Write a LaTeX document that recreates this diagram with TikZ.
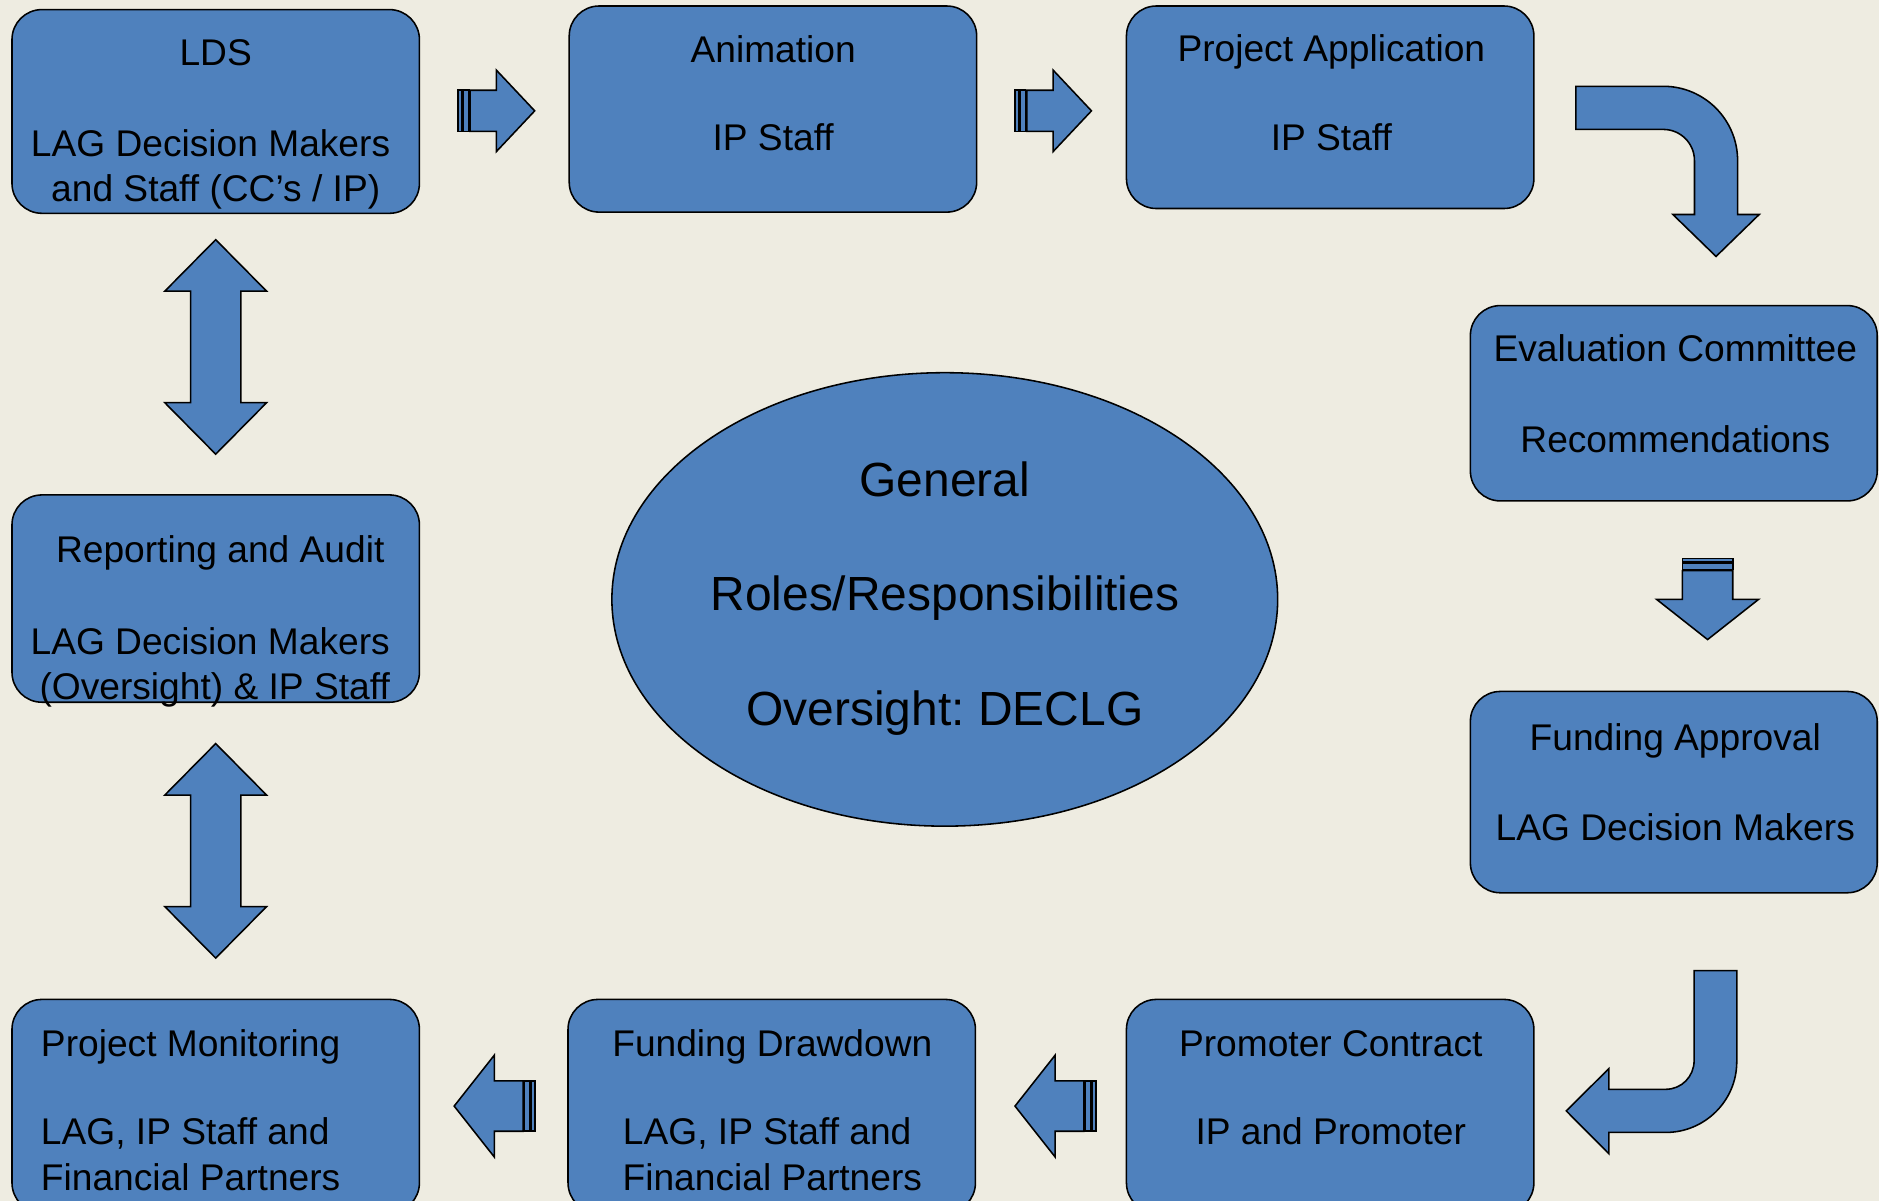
\documentclass[tikz,border=0pt]{standalone}
\usepackage{fontspec}
\setmainfont{Liberation Sans}
\usetikzlibrary{shapes.geometric,calc}
\definecolor{bgtan}{HTML}{EEECE1}
\definecolor{boxblue}{HTML}{4F81BD}
\newcommand\boxstrut{\rule{0pt}{26.6pt}}
\newcommand\bigstrut{\rule{0pt}{33.6pt}}
\frenchspacing
\begin{document}
\begin{tikzpicture}[x=1pt,y=-1pt,
  stagebox/.style={draw=black, fill=boxblue, line width=1.3pt, rounded corners=25pt,
    inner sep=0pt, outer sep=0pt, minimum width=340pt, minimum height=170pt},
  boxtext/.style={font=\fontsize{31}{38}\selectfont, align=center, inner sep=0pt,
    anchor=north},
  bigtext/.style={font=\fontsize{40}{48}\selectfont, align=center, inner sep=0pt,
    anchor=north},
  shapearrow/.style={draw=black, fill=boxblue, line width=1.3pt, line join=miter},
  pics/smallstriped/.style={code={
    \path[shapearrow] (-32,-17.2) rectangle (-28.5,17.2);
    \path[shapearrow] (-27.5,-17.2) rectangle (-23,17.2);
    \path[shapearrow] (-22,-17.2) -- (0,-17.2) -- (0,-34) -- (32,0) -- (0,34)
      -- (0,17.2) -- (-22,17.2) -- cycle;}},
  pics/bigstriped/.style={code={
    \path[shapearrow] (-34,-21) rectangle (-31,21);
    \path[shapearrow] (-30,-21) rectangle (-25,21);
    \path[shapearrow] (-24,-21) -- (0,-21) -- (0,-42.5) -- (33.5,0) -- (0,42.5)
      -- (0,21) -- (-24,21) -- cycle;}},
  pics/doublearrow/.style={code={
    \path[shapearrow] (0,-89.5) -- (42.5,-46.5) -- (21,-46.5) -- (21,46.5)
      -- (42.5,46.5) -- (0,89.5) -- (-42.5,46.5) -- (-21,46.5) -- (-21,-46.5)
      -- (-42.5,-46.5) -- cycle;}}
]
\useasboundingbox (0,0) rectangle (1568,1002);
\clip (0,0) rectangle (1568,1002);
\fill[bgtan] (0,0) rectangle (1568,1002);

% boxes
\node[stagebox, minimum height=170pt] (lds) at (180,93) {};
\node[stagebox, minimum height=172pt] (anim) at (645,91) {};
\node[stagebox, minimum height=169pt] (proj) at (1110,89.5) {};
\node[stagebox, minimum width=339.5pt, minimum height=163pt] (eval) at (1396.75,336.5) {};
\node[stagebox, minimum width=339.5pt, minimum height=168pt] (fund) at (1396.75,661) {};
\node[stagebox, minimum height=178pt] (prom) at (1110,923) {};
\node[stagebox, minimum height=178pt] (draw) at (644,923) {};
\node[stagebox, minimum height=178pt] (mon) at (180,923) {};
\node[stagebox, minimum height=173pt] (rep) at (180,499.5) {};

% central ellipse
\node[ellipse, draw=black, fill=boxblue, line width=1.3pt, inner sep=0pt,
  minimum width=555.6pt, minimum height=378.4pt] (gen) at (788.4,500.2) {};

% texts
\node[boxtext] (ldstext) at (180,27.7) {\boxstrut LDS\\[38pt]LAG Decision Makers\rule{8.6pt}{0pt}\\and Staff (CC’s / IP)};
\node[boxtext] (animtext) at (645.2,25) {\boxstrut Animation\\[36pt]IP Staff};
\node[boxtext] (projtext) at (1111,24.4) {\boxstrut Project Application\\[36pt]IP Staff};
\node[boxtext] (evaltext) at (1398,274.9) {\boxstrut Evaluation Committee\\[38pt]Recommendations};
\node[boxtext] (fundtext) at (1398,599.4) {\boxstrut Funding Approval\\[37pt]LAG Decision Makers};
\node[boxtext] (promtext) at (1110.5,854.6) {\boxstrut Promoter Contract\\[36pt]IP and Promoter};
\node[boxtext] (drawtext) at (644.5,854.6) {\boxstrut Funding Drawdown\\[36pt]LAG, IP Staff and\rule{8.6pt}{0pt}\\Financial Partners};
\node[boxtext, align=left, anchor=north west] (montext) at (34,854.6) {\boxstrut Project Monitoring\\[36pt]LAG, IP Staff and\\Financial Partners};
\node[boxtext, align=right, anchor=north east] (reptext) at (325.5,443) {\boxstrut Reporting and Audit\rule{4.5pt}{0pt}\\[38pt]LAG Decision Makers\\(Oversight) \& IP Staff};
\node[bigtext] (gentext) at (788.5,380.4) {\bigstrut General\\[47.5pt]Roles/Responsibilities\\[47.5pt]Oversight: DECLG};

% straight striped arrows
\pic at ($(lds.east)+(64.2,-0.5)$) {smallstriped};
\pic at ($(anim.east)+(63.8,1.5)$) {smallstriped};
\pic[rotate=-90] at ($(eval.south)+(28.2,82.2)$) {bigstriped};
\pic[rotate=180] at ($(prom.west)+(-59.5,0)$) {bigstriped};
\pic[rotate=180] at ($(draw.west)+(-61.5,0)$) {bigstriped};

% double arrows
\pic at ($(lds.south)+(0,111.5)$) {doublearrow};
\pic at ($(rep.south)+(0,124)$) {doublearrow};

% bent arrow: Project Application -> Evaluation Committee
\path[shapearrow] (1315,72) -- (1388,72) .. controls (1422.2,72) and (1450,99.8) .. (1450,134)
  -- (1450,179) -- (1468,179) -- (1432,214) -- (1396,179) -- (1414,179) -- (1414,134)
  .. controls (1414,119.6) and (1402.4,108) .. (1388,108) -- (1315,108) -- cycle;

% bent arrow: Funding Approval -> Promoter Contract
\path[shapearrow] (1413.7,810) -- (1449.3,810) -- (1449.3,886)
  .. controls (1449.3,918.6) and (1422.6,945) .. (1390,945) -- (1342.5,945)
  -- (1342.5,962.7) -- (1307,927) -- (1342.5,891.8) -- (1342.5,909) -- (1390,909)
  .. controls (1403.3,909) and (1413.7,898.3) .. (1413.7,885) -- cycle;
\end{tikzpicture}
\end{document}
